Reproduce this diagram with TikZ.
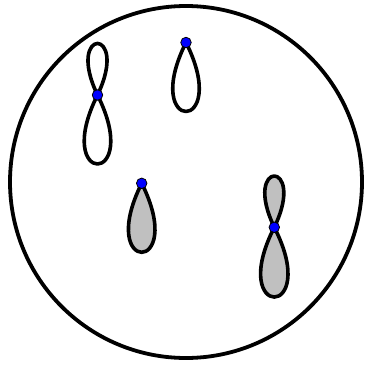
\documentclass[tikz,border=0pt]{standalone}
\definecolor{lobegray}{RGB}{192,192,192}
\begin{document}
\begin{tikzpicture}[x=1pt,y=-1pt,
  outline/.style={line width=3.8pt},
  loopline/.style={line width=3.6pt, line join=round},
  shaded/.style={loopline, fill=lobegray},
  dot/.style={circle, fill=blue, draw=black, line width=0.8pt, inner sep=0pt, minimum size=10.5pt}]
\useasboundingbox (0,0) rectangle (365,365);
\coordinate (c) at (186,182);
\draw[outline] (c) circle[radius=176];
% figure 1 (white figure-eight)
\coordinate (p1) at (97.5,95);
\draw[loopline] (p1) .. controls +(-33,-68.7) and +(33,-68.7) .. (p1);
\draw[loopline] (p1) .. controls +(-46,92) and +(46,92) .. (p1);
% figure 2 (white teardrop)
\coordinate (p2) at (186,42.5);
\draw[loopline] (p2) .. controls +(-46,92) and +(46,92) .. (p2);
% figure 3 (gray teardrop)
\coordinate (p3) at (141.7,183.3);
\draw[shaded] (p3) .. controls +(-46,92) and +(46,92) .. (p3);
% figure 4 (gray figure-eight)
\coordinate (p4) at (274.3,227.3);
\draw[shaded] (p4) .. controls +(-33,-68.4) and +(33,-68.4) .. (p4);
\draw[shaded] (p4) .. controls +(-47.5,93) and +(47.5,93) .. (p4);
% dots
\node[dot] (d1) at (p1) {};
\node[dot] (d2) at (p2) {};
\node[dot] (d3) at (p3) {};
\node[dot] (d4) at (p4) {};
\end{tikzpicture}
\end{document}
